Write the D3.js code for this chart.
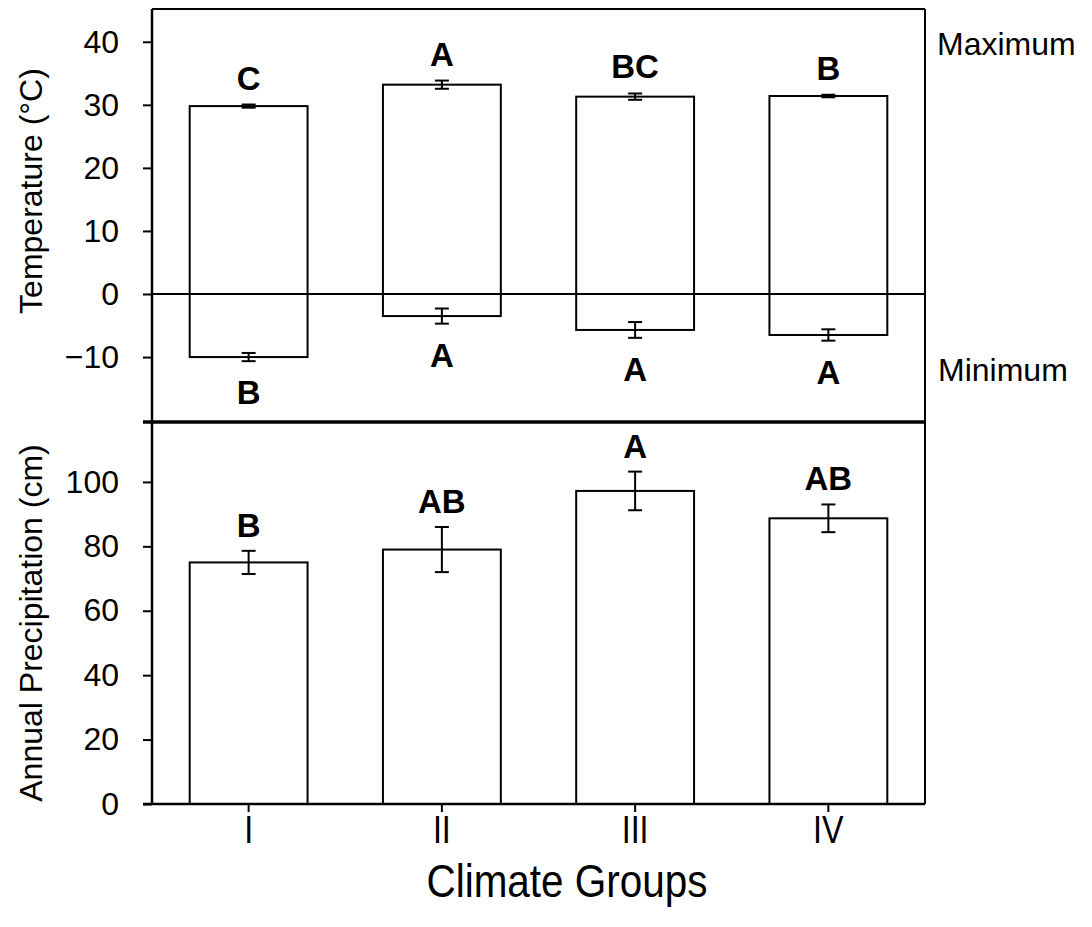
<!DOCTYPE html>
<html>
<head>
<meta charset="utf-8">
<script src="https://cdn.jsdelivr.net/npm/d3@7"></script>
<style>
  html, body { margin: 0; padding: 0; background: #fff; }
  svg { display: block; }
  text { font-family: "Liberation Sans", Arial, sans-serif; fill: #000; }
</style>
</head>
<body>
<svg id="chart" width="1092" height="927"></svg>
<script>
// ---- data ----
const categories = ["I", "II", "III", "IV"];
const maxTemp = [29.8, 33.2, 31.3, 31.4];
const maxTempErr = [0.25, 0.65, 0.5, 0.2];
const maxLetters = ["C", "A", "BC", "B"];
const minTemp = [-10.0, -3.5, -5.7, -6.5];
const minTempErr = [0.65, 1.2, 1.25, 0.9];
const minLetters = ["B", "A", "A", "A"];
const precip = [75, 79, 97.2, 88.7];
const precipErr = [3.6, 7, 6, 4.3];
const precipLetters = ["B", "AB", "A", "AB"];
const tempTicks = [-10, 0, 10, 20, 30, 40];
const precipTicks = [0, 20, 40, 60, 80, 100];

// ---- layout ----
const L = 152, R = 925, T = 9, MID = 422, B = 804;
const svg = d3.select("#chart");

const x = d3.scaleBand().domain(categories).range([L, R]).paddingInner(0.39).paddingOuter(0.195);
const yT = d3.scaleLinear().domain([-20.3, 45.2]).range([MID, T]);
const yP = d3.scaleLinear().domain([0, 118.6]).range([B, MID]);

const capW = 7;

// ---- top panel bars ----
const gT = svg.append("g");
categories.forEach((c, i) => {
  gT.append("rect")
    .attr("x", x(c)).attr("width", x.bandwidth())
    .attr("y", yT(maxTemp[i])).attr("height", yT(0) - yT(maxTemp[i]))
    .attr("fill", "#fff").attr("stroke", "#000").attr("stroke-width", 2);
  gT.append("rect")
    .attr("x", x(c)).attr("width", x.bandwidth())
    .attr("y", yT(0)).attr("height", yT(minTemp[i]) - yT(0))
    .attr("fill", "#fff").attr("stroke", "#000").attr("stroke-width", 2);
});

function errBar(g, cx, y1, y2) {
  g.append("line").attr("x1", cx).attr("x2", cx).attr("y1", y1).attr("y2", y2)
    .attr("stroke", "#000").attr("stroke-width", 2);
  [y1, y2].forEach(yy => g.append("line").attr("x1", cx - capW).attr("x2", cx + capW)
    .attr("y1", yy).attr("y2", yy).attr("stroke", "#000").attr("stroke-width", 2));
}

categories.forEach((c, i) => {
  const cx = x(c) + x.bandwidth() / 2;
  const t1 = yT(maxTemp[i] + maxTempErr[i]), t2 = yT(maxTemp[i] - maxTempErr[i]);
  errBar(gT, cx, t1, t2);
  gT.append("text").attr("x", cx).attr("y", t1 - 15).attr("text-anchor", "middle")
    .attr("font-size", 33).attr("font-weight", "bold").text(maxLetters[i]);
  const m1 = yT(minTemp[i] + minTempErr[i]), m2 = yT(minTemp[i] - minTempErr[i]);
  errBar(gT, cx, m1, m2);
  gT.append("text").attr("x", cx).attr("y", m2 + 43).attr("text-anchor", "middle")
    .attr("font-size", 33).attr("font-weight", "bold").text(minLetters[i]);
});

// zero line
svg.append("line").attr("x1", L).attr("x2", R).attr("y1", yT(0)).attr("y2", yT(0))
  .attr("stroke", "#000").attr("stroke-width", 2);

// ---- bottom panel bars ----
const gP = svg.append("g");
categories.forEach((c, i) => {
  const cx = x(c) + x.bandwidth() / 2;
  gP.append("rect")
    .attr("x", x(c)).attr("width", x.bandwidth())
    .attr("y", yP(precip[i])).attr("height", yP(0) - yP(precip[i]))
    .attr("fill", "#fff").attr("stroke", "#000").attr("stroke-width", 2);
  const p1 = yP(precip[i] + precipErr[i]), p2 = yP(precip[i] - precipErr[i]);
  errBar(gP, cx, p1, p2);
  gP.append("text").attr("x", cx).attr("y", p1 - 14).attr("text-anchor", "middle")
    .attr("font-size", 33).attr("font-weight", "bold").text(precipLetters[i]);
});

// ---- axes ----
const axT = svg.append("g").attr("transform", `translate(${L},0)`)
  .call(d3.axisLeft(yT).tickValues(tempTicks).tickSize(9).tickPadding(24).tickFormat(d3.format("d")));
const axP = svg.append("g").attr("transform", `translate(${L},0)`)
  .call(d3.axisLeft(yP).tickValues(precipTicks).tickSize(9).tickPadding(24).tickFormat(d3.format("d")));
const axX = svg.append("g").attr("transform", `translate(0,${B})`)
  .call(d3.axisBottom(x).tickSize(8).tickPadding(4));

[axT, axP, axX].forEach(a => {
  a.select(".domain").remove();
  a.selectAll(".tick line").attr("stroke", "#000").attr("stroke-width", 2);
  a.selectAll("text").attr("font-family", "\"Liberation Sans\", Arial, sans-serif").attr("fill", "#000");
});
axT.selectAll("text").attr("font-size", 32);
axP.selectAll("text").attr("font-size", 32);
axX.selectAll("text").attr("font-size", 38).attr("transform", "scale(0.85,1)");

// frame lines
svg.append("line").attr("x1", L).attr("x2", L).attr("y1", T).attr("y2", B).attr("stroke", "#000").attr("stroke-width", 2.5);
svg.append("line").attr("x1", R).attr("x2", R).attr("y1", T).attr("y2", B).attr("stroke", "#000").attr("stroke-width", 2);
svg.append("line").attr("x1", L).attr("x2", R).attr("y1", T).attr("y2", T).attr("stroke", "#000").attr("stroke-width", 2);
svg.append("line").attr("x1", L - 9).attr("x2", R).attr("y1", B).attr("y2", B).attr("stroke", "#000").attr("stroke-width", 2.5);
svg.append("line").attr("x1", L - 9).attr("x2", R).attr("y1", MID).attr("y2", MID).attr("stroke", "#000").attr("stroke-width", 3.5);

// ---- titles ----
svg.append("text").attr("transform", "translate(42,191) rotate(-90)").attr("text-anchor", "middle")
  .attr("font-size", 32).text("Temperature (°C)");
svg.append("text").attr("transform", "translate(42,623) rotate(-90)").attr("text-anchor", "middle")
  .attr("font-size", 32).text("Annual Precipitation (cm)");
svg.append("text").attr("transform", "translate(567,897) scale(0.88,1)").attr("text-anchor", "middle")
  .attr("font-size", 46).text("Climate Groups");
svg.append("text").attr("x", 937).attr("y", 55).attr("font-size", 32).text("Maximum");
svg.append("text").attr("x", 938).attr("y", 381).attr("font-size", 32).text("Minimum");
</script>
</body>
</html>
